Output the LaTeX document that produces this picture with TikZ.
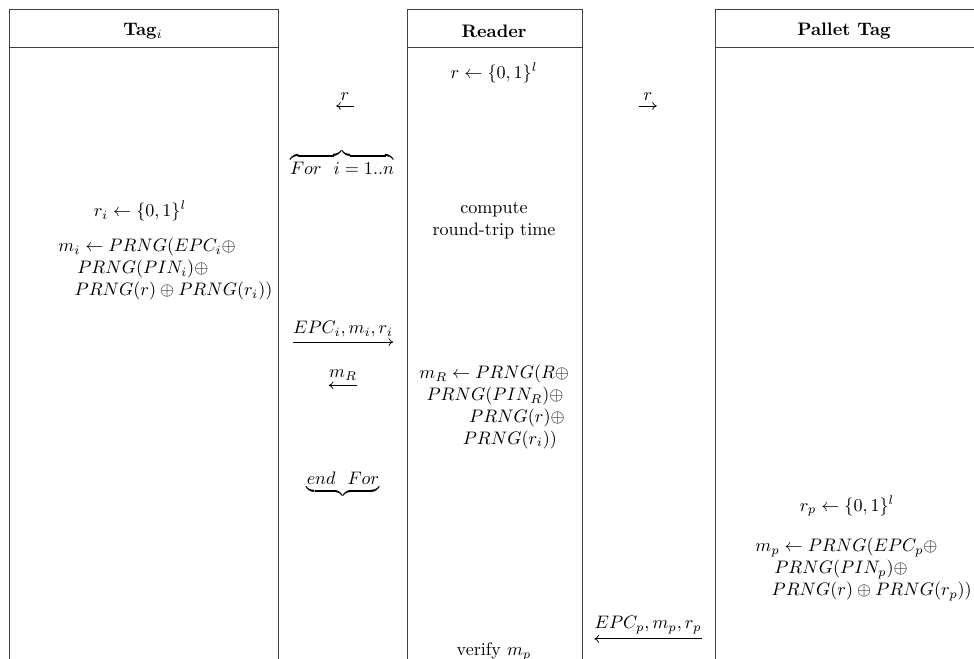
\documentclass[tikz,border=0pt]{standalone}
\usepackage{amsmath,amssymb}
\usetikzlibrary{arrows.meta,positioning}

\begin{document}
\begin{tikzpicture}[x=0.5525pt,y=-0.5525pt,
  lane/.style={draw=black!75,line width=0.55pt},
  hdr/.style={font=\bfseries},
  calc/.style={align=left,inner sep=0pt,anchor=north west},
  msg/.style={inner xsep=0pt,inner ysep=2.6pt},
  ar/.style={-{To[length=0.9mm,width=1.5mm]},line width=0.4pt}]

\useasboundingbox (0,0) rectangle (974,659);
\clip (0,0) rectangle (974,659);

% three columns, cut off at the foot of the page
\draw[lane] (9,680) |- (278,9) -- (278,680);
\draw[lane] (407,680) |- (582,9) -- (582,680);
\draw[lane] (715,680) |- (990,9) -- (990,680);
\foreach \l/\r in {9/278,407/582,715/990} \draw[lane] (\l,47) -- (\r,47);

\node[hdr] (tag)    at (143,31) {Tag$_i$};
\node[hdr] (reader) at (494,31) {Reader};
\node[hdr] (pallet) at (844,31) {Pallet Tag};

% reader side
\node (rnd) at (494,73) {$r\leftarrow\{0,1\}^l$};
\node[align=center] (rtt) at (494,221) {compute\\round-trip time};
\node[calc] (mr) at (419,365) {$m_R\leftarrow PRNG(R\oplus$\\
  \hspace*{4pt}$PRNG(PIN_R)\oplus$\\
  \hspace*{27.5pt}$PRNG(r)\oplus$\\
  \hspace*{24pt}$PRNG(r_i))$};
\node (ver) at (494,652) {verify $m_p$};

% tag side
\node (ri) at (140,211) {$r_i\leftarrow\{0,1\}^l$};
\node[calc] (mi) at (58,238) {$m_i\leftarrow PRNG(EPC_i\oplus$\\
  \hspace*{10.5pt}$PRNG(PIN_i)\oplus$\\
  \hspace*{9pt}$PRNG(r)\oplus PRNG(r_i))$};

% pallet side
\node (rp) at (847,506) {$r_p\leftarrow\{0,1\}^l$};
\node[calc] (mp) at (755,538) {$m_p\leftarrow PRNG(EPC_p\oplus$\\
  \hspace*{10.5pt}$PRNG(PIN_p)\oplus$\\
  \hspace*{9pt}$PRNG(r)\oplus PRNG(r_p))$};

% messages
\node[msg,minimum width=9.4pt] (q1) at (345,97) {$r$};
\node[msg,minimum width=9.4pt] (q2) at (648,97) {$r$};
\node (for) at (342,162) {$\overbrace{For\ \ i=1..n}$};
\node[msg,minimum width=54pt] (q3) at (343,329) {$EPC_i,m_i,r_i$};
\node[msg,minimum width=14.4pt] (q4) at (343,375) {$m_R$};
\node (endfor) at (343,485) {$\underbrace{end\ \ For}$};
\node[msg,minimum width=58pt] (q5) at (648,625) {$EPC_p,m_p,r_p$};

\draw[ar] (q1.south east) -- (q1.south west);
\draw[ar] (q2.south west) -- (q2.south east);
\draw[ar] (q3.south west) -- (q3.south east);
\draw[ar] (q4.south east) -- (q4.south west);
\draw[ar] (q5.south east) -- (q5.south west);
\end{tikzpicture}
\end{document}
